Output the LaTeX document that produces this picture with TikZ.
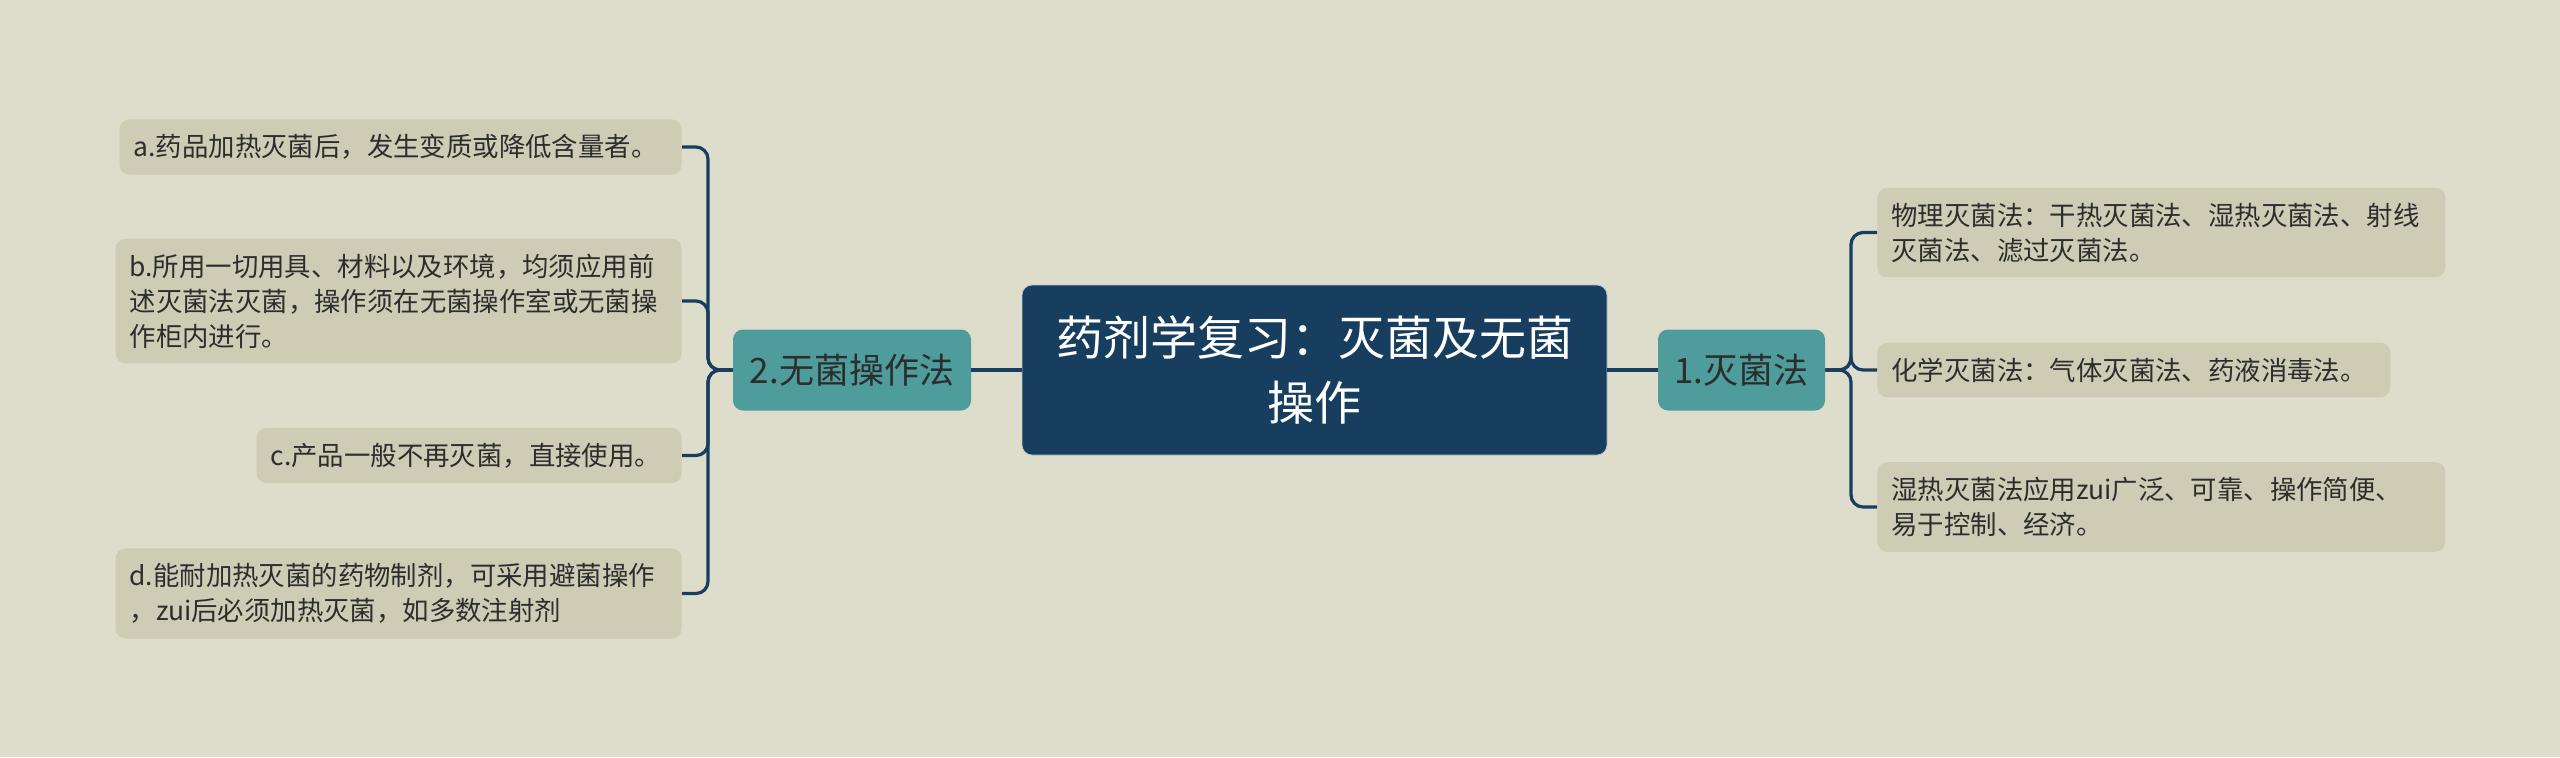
\documentclass[tikz,border=0pt]{standalone}
\usepackage{fontspec}
\setmainfont{Noto Sans CJK SC}
\usetikzlibrary{positioning, calc}
\definecolor{mapback}{RGB}{222, 220, 203}
\definecolor{mapleaf}{RGB}{206, 204, 181}
\definecolor{mapteal}{RGB}{78, 156, 156}
\definecolor{mapnavy}{RGB}{23, 62, 94}
\definecolor{maptext}{RGB}{45, 45, 45}

\tikzset{
    leaf/.style={rectangle, rounded corners=5pt, fill=mapleaf, text=maptext, align=left,
        inner xsep=7pt, inner ysep=7.5pt, font=\fontsize{13.2pt}{17.5pt}\selectfont},
    branch/.style={rectangle, rounded corners=5pt, fill=mapteal, text=maptext,
        minimum height=40.5pt, inner xsep=0pt, font=\fontsize{17.5pt}{21pt}\selectfont},
    link/.style={draw=mapnavy, line width=1.6pt, rounded corners=6pt}
}

\begin{document}
\begin{tikzpicture}[x=0.5pt, y=-0.5pt]
                    \useasboundingbox[fill=mapback] (0, 0) rectangle (2560, 757);

                    \node[rectangle, rounded corners=5pt, fill=mapnavy, draw=white!70!mapnavy, line width=0.4pt, text=white, align=center,
                        minimum width=292.5pt, minimum height=85pt, font=\fontsize{23.5pt}{32.5pt}\selectfont] (root) at (1314.5, 370)
                        {药剂学复习：灭菌及无菌\\操作};

                    \node[branch, minimum width=83.5pt] (sterile) at (1741.5, 370) {1.灭菌法};
                    \node[branch, minimum width=119pt] (aseptic) at (852, 370) {2.无菌操作法};

                    \node[leaf, text width=270pt, anchor=west] (phys) at (1877, 232.5)
                        {物理灭菌法：干热灭菌法、湿热灭菌法、射线\\灭菌法、滤过灭菌法。};
                    \node[leaf, text width=242.5pt, anchor=west] (chem) at (1877, 370)
                        {化学灭菌法：气体灭菌法、药液消毒法。};
                    \node[leaf, text width=270pt, anchor=west] (moist) at (1877, 507)
                        {湿热灭菌法应用zui广泛、可靠、操作简便、\\易于控制、经济。};

                    \node[leaf, text width=267pt, anchor=east] (lfa) at (682, 147)
                        {a.药品加热灭菌后，发生变质或降低含量者。};
                    \node[leaf, text width=269pt, anchor=east] (lfb) at (682, 301)
                        {b.所用一切用具、材料以及环境，均须应用前\\述灭菌法灭菌，操作须在无菌操作室或无菌操\\作柜内进行。};
                    \node[leaf, text width=198.5pt, anchor=east] (lfc) at (682, 455.5)
                        {c.产品一般不再灭菌，直接使用。};
                    \node[leaf, text width=269pt, anchor=east] (lfd) at (682, 593.5)
                        {d.能耐加热灭菌的药物制剂，可采用避菌操作\\，zui后必须加热灭菌，如多数注射剂};

                    \coordinate (jl) at (708, 370);
                    \coordinate (jr) at (1851, 370);

                    \draw[link] (aseptic.east) -- (root.west);
                    \draw[link] (root.east) -- (sterile.west);

                    \draw[link] (sterile.east) -- (jr) |- (phys.west);
                    \draw[link] (sterile.east) -- (jr) |- (chem.west);
                    \draw[link] (sterile.east) -- (jr) |- (moist.west);

                    \draw[link] (aseptic.west) -- (jl) |- (lfa.east);
                    \draw[link] (aseptic.west) -- (jl) |- (lfb.east);
                    \draw[link] (aseptic.west) -- (jl) |- (lfc.east);
                    \draw[link] (aseptic.west) -- (jl) |- (lfd.east);
            \end{tikzpicture}
\end{document}
